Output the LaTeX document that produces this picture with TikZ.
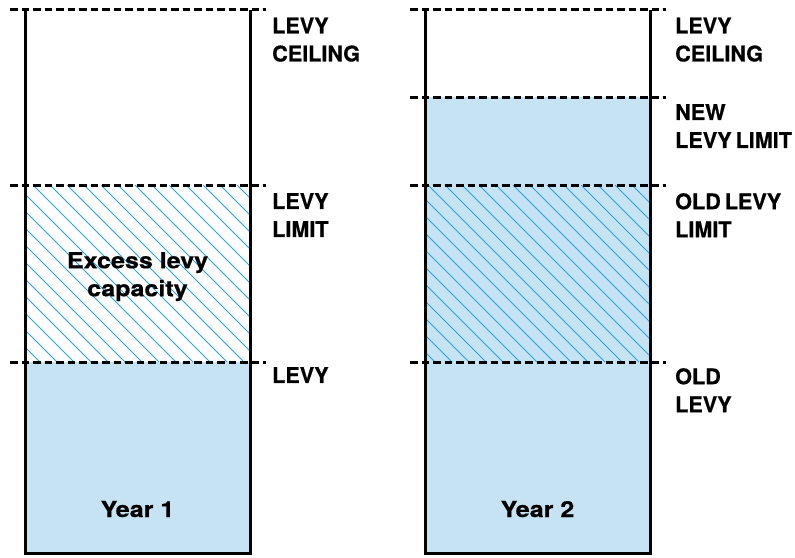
\documentclass[tikz,border=0pt]{standalone}
\usepackage{fontspec}
\setmainfont{TeX Gyre Heros}[BoldFeatures={FakeBold=0.6}]
\newfontfamily\widefont{TeX Gyre Heros}[BoldFeatures={FakeBold=0.6,FakeStretch=1.14}]
\newcommand{\lblfont}{\fontsize{21.6}{28}\selectfont\bfseries\spaceskip=4pt\relax}
\definecolor{levyblue}{HTML}{C5E3F3}
\definecolor{hatchblue}{HTML}{2AA2DC}
\begin{document}
\begin{tikzpicture}[x=1pt,y=-1pt,
  lbl/.style={anchor=north west,inner sep=0pt,align=left,font=\lblfont},
  ctr/.style={inner sep=0pt,align=center,font=\widefont\fontsize{22}{28}\selectfont\bfseries},
  levelline/.style={line width=3pt,dash pattern=on 7.5pt off 4pt},
  boxline/.style={line width=3pt,line join=miter},
  hatch/.style={hatchblue,line width=0.8pt}]
\useasboundingbox (0,0) rectangle (795,557);
% ---------- Year 1 ----------
\fill[levyblue] (25,362) rectangle (250,553);
\begin{scope}
  \clip (25,185) rectangle (250,362);
  \foreach \k in {-12,...,14} {
    \draw[hatch] ({33+17*\k},185) -- ({33+17*\k+177},362);
  }
\end{scope}
\draw[levelline] (10,9.5) -- (266,9.5);
\draw[levelline] (10,185) -- (266,185);
\draw[levelline] (10,362) -- (266,362);
\draw[boxline] (25,9.5) -- (25,553) -- (250,553) -- (250,9.5);
% ---------- Year 2 ----------
\fill[levyblue] (425,97) rectangle (650,553);
\begin{scope}
  \clip (425,185) rectangle (650,362);
  \foreach \k in {-12,...,14} {
    \draw[hatch] ({428+17*\k},185) -- ({428+17*\k+177},362);
  }
\end{scope}
\draw[levelline] (410,9.5) -- (666,9.5);
\draw[levelline] (410,97) -- (666,97);
\draw[levelline] (410,185) -- (666,185);
\draw[levelline] (410,362) -- (666,362);
\draw[boxline] (425,9.5) -- (425,553) -- (650,553) -- (650,9.5);
% ---------- labels ----------
\node[lbl] (ceil1) at (272,17.5) {LEVY\\CEILING};
\node[lbl] (limit1) at (272,193) {LEVY\\LIMIT};
\node[lbl] (levy1) at (272,367) {LEVY};
\node[ctr,anchor=north] (excess) at (137.5,252) {Excess levy\\capacity};
\node[ctr,anchor=base] (year1) at (137.5,517) {Year 1};
\node[lbl] (ceil2) at (675,17.5) {LEVY\\CEILING};
\node[lbl] (newlimit) at (675,104) {NEW\\LEVY LIMIT};
\node[lbl] (oldlimit) at (675,193) {OLD LEVY\\LIMIT};
\node[lbl] (oldlevy) at (675,368) {OLD\\LEVY};
\node[ctr,anchor=base] (year2) at (537.5,517) {Year 2};
\end{tikzpicture}
\end{document}
